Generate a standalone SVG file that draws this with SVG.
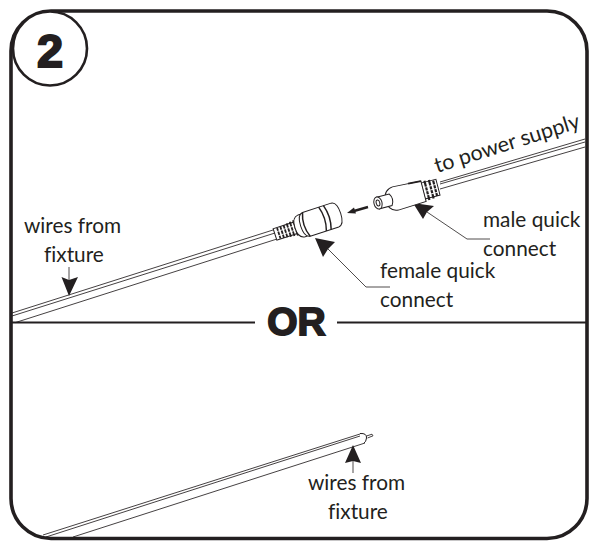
<svg xmlns="http://www.w3.org/2000/svg" width="592" height="544" viewBox="0 0 592 544">
<style>
.t{font-family:"Lato","Open Sans",sans-serif;font-size:20.8px;fill:#231f20;font-variant-ligatures:none}
.b{font-family:"Liberation Sans",sans-serif;font-weight:700;fill:#231f20;stroke:#231f20}
.w{fill:none;stroke:#231f20;stroke-width:.85}
.l{fill:none;stroke:#231f20;stroke-width:.8}
.s{fill:#fff;stroke:#231f20;stroke-width:1}
.d{fill:none;stroke:#231f20;stroke-width:1.5}
.r{fill:none;stroke:#231f20;stroke-width:1.8}
.h{fill:#231f20}
</style>
<rect width="592" height="544" fill="#fff"/>
<g id="frame"><rect x="11" y="11" width="576" height="527.5" rx="40" fill="none" stroke="#231f20" stroke-width="3.6"/></g>
<g id="step"><circle cx="50" cy="48.500" r="37" fill="#fff" stroke="#231f20" stroke-width="2.600"/><text class="b" x="50" y="67" font-size="47" stroke-width="2" text-anchor="middle">2</text></g>
<g id="or"><path d="M12 322.500H255M337 322.500H586" fill="none" stroke="#231f20" stroke-width="2"/><text class="b" x="296.500" y="335" font-size="39" stroke-width="1.800" text-anchor="middle">OR</text></g>
<g id="connectors">
<path class="w" d="M12 313L273 230M12 316L275 233M15 322.700L277 239"/>
<path class="w" d="M440 182L585 139M440 184L585 142M440 189L585 147"/>
<path class="w" d="M43 535L360 434M46 537L360 436M73 537L365 443"/>
<path class="s" d="M360 433.500Q367 433 366.500 438Q366 442 364 443"/>
<path class="w" d="M366.500 436L372 434.200L373 435.800L367.500 438"/>
<path class="l" d="M69 267V285"/><path class="h" d="M69 296L61.500 277L69 280L78 277Z"/>
<path class="l" d="M353 473V455"/><path class="h" d="M353 445L345 463L353 461L361 463Z"/>
<path class="l" d="M427 212L467 239H490"/><path class="h" d="M413 203L423 219L427 212L434 206Z"/>
<path class="l" d="M325 246L366 287H390"/><path class="h" d="M315 238L323 257L328 249L335 242Z"/>
<path fill="none" stroke="#231f20" stroke-width="2.400" d="M368 207L354 211"/><path class="h" d="M347 213L354 207.500L356 213.500Z"/>
</g>
<g id="female-quick-connect" transform="translate(275 234.500) rotate(-18)">
<path class="s" d="M0-6H22V6H0Z"/>
<path class="r" d="M4-5.500V5.500M7.500-6V6M11-6.500V6.500M14.500-7V7M18-7.500V7.500M21.500-8V8"/>
<path d="M2-2.200H22M2 2.200H22" stroke="#fff" stroke-width=".8"/>
<path class="s" d="M30-11.500V11.500H28Q21 11 21 0Q21-11 28-11.500Z"/>
<path class="s" d="M33-12.500H63Q69-12 69 0Q69 12 63 12.500H33Q27 12 27 0Q27-12 33-12.500Z"/>
<path class="d" d="M33-12.500Q28 0 33 12.500M50-12.500Q54 0 50 12.500M55-12.500Q59 0 55 12.500"/>
</g>
<g id="male-quick-connect" transform="translate(378 203) rotate(-14.500)">
<path class="s" d="M44-8.500H62V8H44Z"/>
<path fill="none" stroke="#231f20" stroke-width="2.200" d="M46-10V10M50.500-10V10M55-9.500V9.500M59-8V8"/>
<path d="M45-3.500H61M45 0.500H61M45 4.500H61" stroke="#fff" stroke-width=".8"/>
<path class="s" d="M18-12L47-10.500V10.500L18 12Q8 11 8 0Q8-11 18-12Z"/>
<path class="r" d="M34-11.300L47-10.500"/>
<path class="s" d="M0-6H13Q17 0 13 6H0Z"/>
<ellipse class="s" cx="0" cy="0" rx="4" ry="6.200" stroke-width="2"/>
<ellipse class="s" cx="0" cy="0" rx="1.800" ry="3"/>
</g>
<g id="labels">
<text class="t" x="24" y="233">wires from</text>
<text class="t" x="44" y="262">fixture</text>
<text class="t" transform="translate(437 173) rotate(-17.500)" style="font-size:21.400px">to power supply</text>
<text class="t" x="483" y="227">male quick</text>
<text class="t" x="483" y="256">connect</text>
<text class="t" x="380" y="278">female quick</text>
<text class="t" x="380" y="307">connect</text>
<text class="t" x="308" y="490">wires from</text>
<text class="t" x="328" y="519">fixture</text>
</g>
</svg>
